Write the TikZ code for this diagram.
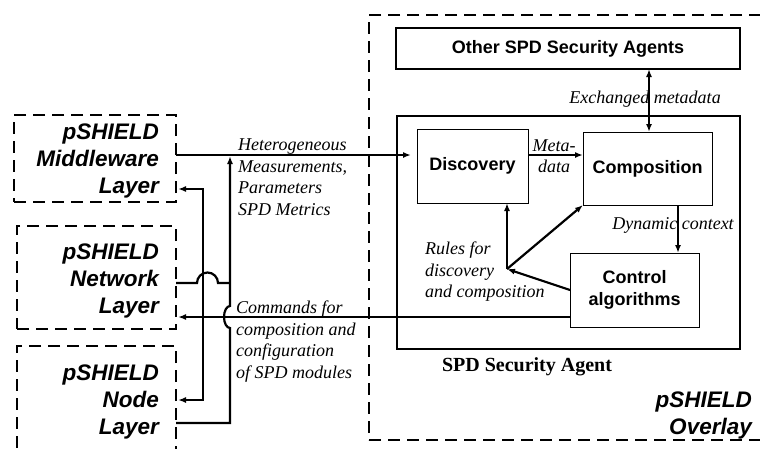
\documentclass[tikz,border=0pt]{standalone}
\usepackage{fontspec}
\setmainfont{Liberation Serif}
\setsansfont{Liberation Sans}
\usetikzlibrary{arrows.meta}
\begin{document}
\begin{tikzpicture}[x=1pt,y=-1pt,
  dashbox/.style={draw, line width=2.4pt, dash pattern=on 12pt off 7pt, inner sep=0pt, outer sep=0pt},
  thickbox/.style={draw, line width=2.5pt, inner sep=0pt, outer sep=0pt, font=\sffamily\bfseries\fontsize{18}{22}\selectfont},
  thinbox/.style={draw, line width=1pt, inner sep=0pt, outer sep=0pt, align=center, font=\sffamily\bfseries\fontsize{18}{22}\selectfont},
  layertext/.style={inner sep=0pt, align=right, font=\sffamily\bfseries\itshape\fontsize{22.5}{27}\selectfont},
  lbl/.style={inner sep=0pt, align=left, font=\itshape\fontsize{18}{21.5}\selectfont},
  conn/.style={line width=2.2pt},
  arr/.style={conn, -{Latex[length=8pt,width=6pt]}},
  dblarr/.style={conn, {Latex[length=8pt,width=6pt]}-{Latex[length=8pt,width=6pt]}},
]
\useasboundingbox (0,0) rectangle (760,448);
\clip (0,0) rectangle (760,448);

% overlay and layers
\node[dashbox, minimum width=411pt, minimum height=425pt] (overlay) at (574.5,227.5) {};
\node[dashbox, minimum width=162pt, minimum height=87pt] (mw) at (95,158.5) {};
\node[dashbox, minimum width=159pt, minimum height=103pt] (net) at (96.5,277.5) {};
\node[dashbox, minimum width=159pt, minimum height=124pt] (nodebox) at (96.5,408) {};

\node[layertext, anchor=east] (mwtxt) at (159,161) {pSHIELD\\Middleware\\Layer};
\node[layertext, anchor=east] (nettxt) at (159,281) {pSHIELD\\Network\\Layer};
\node[layertext, anchor=east] (nodetxt) at (159,402) {pSHIELD\\Node\\Layer};
\node[layertext, anchor=east] (ovtxt) at (752,415.5) {pSHIELD\\Overlay};

% agent boxes
\node[thickbox, minimum width=344pt, minimum height=41pt] (other) at (568,48.5) {Other SPD Security Agents};
\node[thickbox, minimum width=343pt, minimum height=233pt] (agent) at (568.5,232.5) {};
\node[thinbox, minimum width=111pt, minimum height=74pt] (disc) at (472.5,166) {Discovery};
\node[thinbox, minimum width=129pt, minimum height=73pt] (comp) at (647.5,168.5) {\raisebox{4pt}{Composition}};
\node[thinbox, minimum width=129pt, minimum height=74pt] (ctrl) at (634.5,290) {Control\\algorithms};

% coordinates
\coordinate (jh) at (230,155);
\coordinate (jc) at (203,317);
\coordinate (jm) at (203,189);
\coordinate (jn) at (203,400);
\coordinate (ju) at (230,423);
\coordinate (jw) at (230,283);
\coordinate (jr) at (507,269);
\coordinate (xe) at (649,100);
\coordinate (xd) at (678,230);

% connectors outside
\draw[arr, shorten >=6pt] (mw.east |- jh) -- (disc.west |- jh);
\draw[conn] (net.east |- jw) -- ++(21,0) arc[start angle=180, end angle=0, radius=10.5pt] -- (jw);
\draw[arr, shorten >=1pt] (nodebox.east |- ju) -- (ju) -- ++(0,-95) arc[start angle=270, end angle=90, x radius=6pt, y radius=11pt] -- (jh);
\draw[arr, shorten >=2pt] (ctrl.west |- jc) -- (net.east |- jc);
\draw[arr, shorten >=2pt] (jc) -- (jm) -- (mw.east |- jm);
\draw[arr, shorten >=2pt] (jc) -- (jn) -- (nodebox.east |- jn);

% connectors inside
\draw[arr] (disc.east |- jh) -- (comp.west |- jh);
\draw[dblarr] (other.south -| xe) -- (comp.north -| xe);
\draw[arr] (comp.south -| xd) -- (ctrl.north -| xd);
\draw[arr] (ctrl.west) -- (jr);
\draw[arr] (jr) -- (disc.south -| jr);
\draw[arr] (jr) -- (comp.south west);

% labels
\node[lbl, anchor=north west] (hetlbl) at (238,139) {Heterogeneous\\Measurements,\\Parameters\\SPD Metrics};
\node[lbl, anchor=north west] (cmdlbl) at (236,301) {Commands for\\composition and\\configuration\\of SPD modules};
\node[lbl, anchor=north west] (rulelbl) at (425,242) {Rules for\\discovery\\and composition};
\node[lbl, align=center] (metalbl) at (554,156) {Meta-\\data};
\node[lbl] (exlbl) at (645,99) {Exchanged metadata};
\node[lbl] (dynlbl) at (673,225) {Dynamic context};
\node[inner sep=0pt, font=\bfseries\fontsize{20}{24}\selectfont] (agentlbl) at (527,367) {SPD Security Agent};
\end{tikzpicture}
\end{document}
